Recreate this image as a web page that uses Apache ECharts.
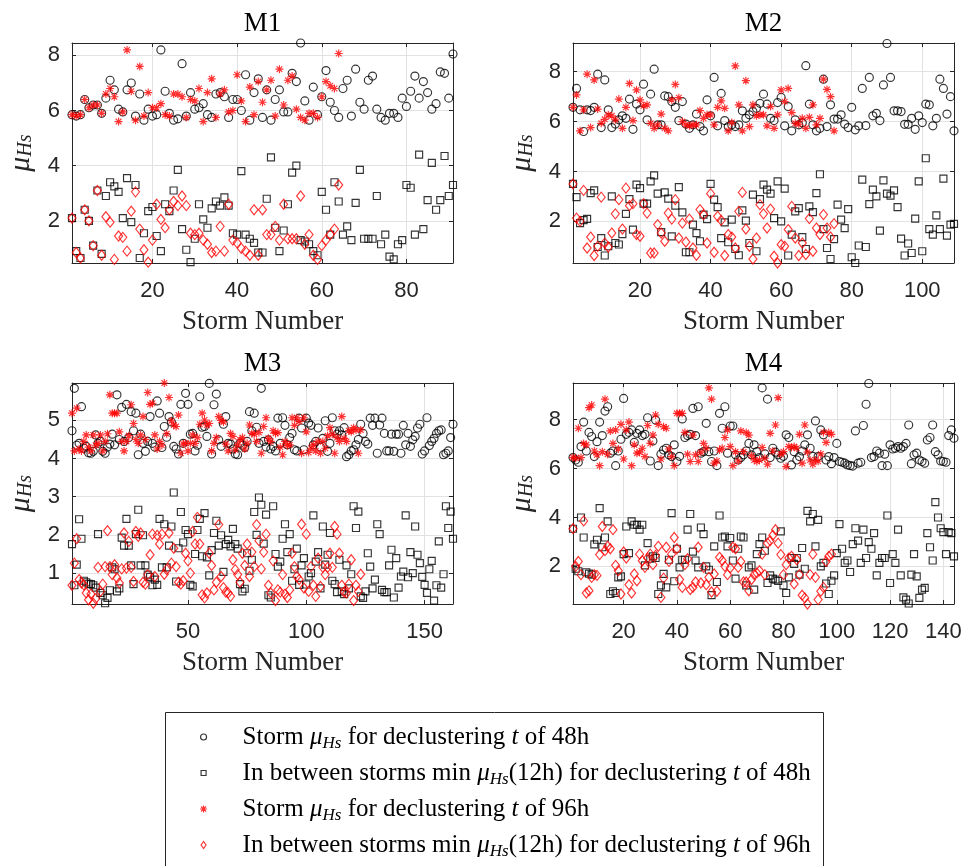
<!DOCTYPE html>
<html>
<head>
<meta charset="utf-8">
<title>Storm mean Hs per site</title>
<script src="https://cdn.jsdelivr.net/npm/echarts@6/dist/echarts.min.js"></script>
<style>
  html, body { margin: 0; padding: 0; background: #ffffff; }
  #chart { width: 965px; height: 866px; }
</style>
</head>
<body>
<div id="chart"></div>
<script>
// ---- Site M1 ----
const m1Storm48 = [5.85,5.8,5.85,6.4,6.1,6.2,6.2,5.9,6.45,7.1, 6.75,6.05,5.95,6.75,7.0,5.8,6.6,5.65,6.05,5.8, 5.85,8.2,6.7,5.9,5.65,5.7,7.7,5.8,6.65,6.05, 6.1,6.25,5.85,5.75,6.6,6.65,6.5,5.75,6.4,6.4, 6.0,7.3,5.65,6.65,7.15,5.75,6.75,5.65,6.4,6.75, 5.95,5.95,7.35,7.05,8.45,6.35,5.65,6.85,5.85,6.5, 7.45,6.3,6.0,5.75,6.8,7.1,5.8,7.5,6.3,6.05, 7.1,7.25,6.05,5.75,5.65,5.9,5.9,5.75,6.45,6.15, 6.7,7.25,6.45,7.05,6.65,6.05,6.25,7.4,7.35,6.45, 8.05];
const m1Between48 = [2.1,0.9,0.65,2.4,2.0,1.1,3.1,0.8,2.9,3.4, 3.25,3.05,2.1,3.55,1.95,3.3,0.65,1.55,2.35,2.5, 1.45,0.9,2.6,2.35,3.1,3.85,1.7,0.95,0.5,1.35, 2.6,2.05,1.75,2.45,2.7,2.55,2.85,2.55,1.55,1.5, 3.8,1.5,1.35,1.2,0.85,0.85,2.8,4.3,1.75,0.9, 1.65,2.6,3.75,4.0,1.3,1.25,1.15,0.9,0.75,3.05, 2.4,1.5,3.4,2.7,1.5,1.8,1.3,2.65,3.85,1.35, 1.35,1.35,2.9,1.15,1.5,0.7,0.6,1.15,1.3,3.3, 3.2,1.5,4.4,1.7,2.75,4.1,2.4,2.75,4.35,2.9, 3.3];
const m1Storm96 = [5.85,5.8,5.85,6.4,6.1,6.2,6.2,5.9,6.6,6.8, 6.5,5.6,5.95,8.2,6.7,5.65,7.6,5.8,6.65,6.1, 6.1,6.25,5.85,5.8,6.6,6.6,6.5,5.75,6.4,6.35, 6.8,5.6,6.65,7.15,5.75,6.6,6.75,5.95,6.0,7.3, 6.35,5.6,6.85,5.85,7.05,6.3,6.75,7.1,5.8,7.5, 6.2,7.1,7.25,6.05,5.75,5.65,5.9,5.9,5.75,6.5, 7.05,6.9,6.8,8.07];
const m1Between96 = [2.1,0.85,0.65,2.4,2.0,1.1,3.1,0.75,2.15,1.95, 0.6,1.45,1.4,0.9,2.35,3.05,1.7,0.95,0.5,1.3, 2.6,2.05,1.75,2.4,2.7,2.55,2.9,2.55,1.55,1.5, 1.55,1.3,1.15,0.85,0.9,1.8,0.9,2.6,1.3,1.2, 1.0,0.9,0.75,2.4,0.75,2.4,1.5,1.5,1.8,1.3, 2.6,1.35,1.35,1.35,2.9,1.15,1.5,0.75,0.6,1.1, 1.3,1.5,1.7,3.3];

// ---- Site M2 ----
const m2Storm48 = [6.57,7.33,6.47,5.6,6.47,6.44,6.57,7.9,5.76,7.67, 6.47,5.76,5.9,6.07,6.23,6.13,6.9,5.69,6.7,6.47, 7.5,6.07,7.1,8.1,5.87,5.87,7.03,7.0,6.8,6.57, 6.04,6.8,5.9,5.73,5.87,6.3,5.8,5.63,6.87,6.23, 7.77,5.83,7.13,6.04,5.8,5.87,5.8,5.87,6.43,6.13, 6.27,6.4,6.53,6.73,7.1,6.7,6.13,6.04,6.76,6.97, 5.83,6.6,5.63,6.07,5.87,5.95,8.24,6.7,5.87,5.63, 5.73,7.7,5.8,6.67,6.1,6.1,6.27,5.9,5.76,6.57, 5.67,5.83,7.33,5.84,7.77,6.23,6.33,6.04,7.47,9.13, 7.77,6.43,6.43,6.4,5.89,5.89,6.13,5.69,6.23,5.96, 6.7,6.67,5.83,6.13,7.7,7.33,6.3,7.0,5.63];
const m2Between48 = [3.5,2.97,1.93,2.05,2.1,3.13,3.24,0.97,1.33,0.63, 1.0,3.0,1.13,1.07,1.49,2.3,2.89,1.67,3.47,3.33, 2.71,2.71,3.6,3.84,3.11,1.57,3.16,2.91,1.4,2.63, 3.37,2.36,0.76,0.76,1.87,1.53,1.2,2.27,2.09,3.5, 2.87,2.57,1.33,1.96,1.16,2.07,0.89,0.64,2.44,2.03, 1.13,3.07,0.8,2.89,3.47,3.27,3.11,2.13,3.6,2.0, 3.31,0.63,1.47,2.4,2.53,1.37,0.89,2.6,2.37,3.13, 3.89,1.69,0.93,0.49,1.29,2.67,2.07,1.73,2.49,0.56, 0.33,1.03,3.67,0.97,2.69,3.27,3.0,1.63,3.64,3.11, 3.03,3.24,2.57,1.31,0.63,1.11,0.73,2.11,3.6,0.8, 4.53,1.69,1.47,2.24,1.69,3.71,1.43,1.87,1.9];
const m2Storm96 = [6.57,7.07,5.63,6.47,7.9,5.76,7.67,6.5,5.93,6.09, 6.27,6.23,6.07,6.9,5.73,6.57,7.53,6.04,7.27,6.87, 6.63,6.67,5.93,5.73,5.87,6.3,5.73,5.63,6.87,7.49, 6.96,6.0,5.87,5.83,5.87,5.87,6.44,6.13,6.27,6.27, 5.87,6.57,6.83,6.53,5.63,5.96,8.23,6.67,5.63,7.64, 5.8,6.67,6.23,6.27,6.27,5.83,6.6,5.73,6.27,7.27, 6.8,7.33,6.36,5.93,5.9,6.13,5.73,6.17,6.67,5.87, 6.13,7.7,7.29,7.0,5.63];
const m2Between96 = [3.5,2.13,2.0,3.24,0.93,1.37,0.63,1.0,2.97,1.13, 0.97,1.53,2.3,2.87,1.69,3.33,2.63,2.71,1.47,1.4, 2.71,2.33,0.73,0.73,1.87,1.53,1.2,2.33,2.09,2.87, 1.33,1.93,1.17,2.09,0.93,0.64,2.47,2.27,1.13,3.11, 0.76,2.2,2.04,0.63,1.47,1.37,0.93,2.4,3.16,1.69, 1.0,0.49,1.33,2.67,2.3,1.73,2.49,0.6,0.33,1.07, 1.0,1.67,2.6,1.33,0.63,1.13,0.67,2.11,0.8,1.73, 1.47,2.27,1.73,1.37,1.91];

// ---- Site M3 ----
const m3Storm48 = [4.73,5.84,4.35,4.40,5.36,4.27,4.32,4.15,4.14,4.19, 4.62,4.40,4.45,4.19,4.14,4.30,4.38,4.64,4.36,5.67, 4.50,5.34,4.45,5.42,4.55,5.23,4.73,5.19,4.10,4.64, 4.40,4.19,4.45,5.10,4.40,4.30,5.51,5.19,4.29,4.84, 4.56,5.10,4.96,4.32,4.25,4.12,5.42,4.40,5.71,5.42, 4.64,4.66,4.20,4.35,5.62,4.82,4.84,4.58,5.97,4.12, 5.41,5.69,4.49,4.32,4.90,5.10,4.40,4.38,4.25,4.12, 4.10,4.40,4.35,4.29,4.45,5.23,4.73,5.19,4.82,4.40, 5.84,4.45,4.30,4.49,4.25,4.32,4.20,5.06,4.40,5.07, 4.87,4.36,4.55,4.66,4.23,4.20,5.06,4.80,4.23,5.06, 4.93,4.87,4.36,4.45,4.80,4.30,4.53,4.99,4.19,4.40, 5.07,4.73,4.64,4.73,4.62,4.81,4.05,4.10,4.20,4.23, 4.36,4.50,4.90,4.66,4.45,4.38,5.06,4.87,5.06,4.14, 4.88,5.06,4.66,4.20,4.20,4.64,4.19,4.64,4.64,4.14, 4.87,4.36,4.66,4.32,4.49,4.58,4.80,4.90,4.12,4.20, 5.07,4.34,4.45,4.53,4.66,4.73,4.75,4.10,4.14,4.20, 4.55,4.90];
const m3Between48 = [1.76,0.68,1.22,2.41,1.9,0.8,0.76,0.72,0.71,0.68, 0.62,2.02,0.48,0.42,0.21,0.35,0.55,1.15,1.1,0.52, 0.6,1.93,1.72,2.42,1.72,1.2,0.71,2.02,2.66,1.2, 1.99,1.2,0.96,0.9,0.68,0.83,0.69,2.42,1.15,2.28, 1.15,1.72,2.22,3.11,0.78,1.65,2.6,1.8,2.13,2.02, 0.69,0.65,1.5,2.13,2.42,1.44,2.57,1.41,0.94,1.6, 2.05,2.37,1.72,1.99,1.03,1.76,1.87,1.7,2.16,1.76, 1.64,0.71,0.52,0.59,1.52,1.06,1.35,2.6,2.0,2.98, 2.79,1.77,2.53,0.42,0.36,2.75,1.5,1.17,1.3,1.9, 2.28,1.55,2.02,0.8,1.1,1.64,0.69,1.2,1.39,0.7, 0.91,1.0,2.51,1.3,1.55,0.6,2.22,1.22,1.48,2.05, 0.8,0.71,0.5,1.35,0.52,0.45,1.2,0.6,0.97,2.75, 2.18,2.61,0.39,0.35,0.52,1.52,1.17,0.6,0.83,2.28, 2.02,0.56,0.5,0.5,1.2,1.61,0.36,1.39,0.62,0.91, 1.04,2.51,0.89,1.55,1.0,2.22,1.48,1.26,0.9,0.69, 0.48,1.1,1.32,0.28,0.68,1.83,0.62,0.97,2.75,2.18, 2.61,1.9];
const m3Storm96 = [5.19,4.20,5.32,4.25,4.20,4.45,4.62,4.30,4.20,4.62, 4.35,4.40,4.62,4.20,4.45,4.65,5.67,5.19,5.19,5.19, 4.70,4.45,4.20,4.45,4.60,5.41,4.92,4.50,4.40,4.62, 5.10,4.50,5.73,5.42,5.45,4.62,4.25,4.45,4.35,5.98, 4.65,5.60,4.99,4.88,4.84,5.14,4.14,4.38,4.40,4.20, 4.40,4.62,4.40,4.55,4.90,5.19,5.01,4.88,4.92,4.20, 4.40,4.55,5.10,5.00,4.96,4.38,4.20,4.66,4.58,4.23, 4.36,4.49,4.55,4.25,4.40,4.88,4.66,4.64,4.45,4.68, 4.14,4.84,5.07,4.53,4.45,4.73,4.66,4.68,4.30,4.10, 4.45,4.34,4.36,5.07,4.87,5.07,4.97,4.14,5.07,4.70, 4.16,4.27,4.36,4.20,4.45,4.14,4.45,4.27,4.60,4.81, 4.64,4.14,4.55,4.45,5.10,4.53,4.45,4.73,4.70,4.81, 4.75,4.14,4.75];
const m3Between96 = [0.68,1.26,1.9,0.83,0.74,0.69,0.48,0.3,0.45,0.21, 0.33,1.15,0.52,0.71,1.17,2.11,1.17,0.96,1.22,0.87, 0.74,1.11,2.05,1.13,1.83,1.15,0.78,2.09,1.96,2.05, 0.76,0.71,0.96,1.48,2.02,0.91,1.99,1.76,2.02,0.97, 1.09,2.05,1.26,1.65,1.17,0.76,0.71,0.8,1.52,1.32, 1.0,2.09,1.76,2.46,1.76,0.43,0.35,0.48,1.52,1.2, 0.56,0.76,2.27,0.91,0.62,0.5,0.48,0.39,1.35,1.09, 0.96,0.76,1.52,1.2,1.76,0.91,1.55,1.17,2.27,1.85, 1.11,1.55,2.02,0.68,0.48,1.32,0.28,0.56,0.5,0.96, 0.45,0.36,0.56,1.52,1.17,0.91,0.83,2.28,0.61,2.02, 0.52,1.17,0.68,0.39,1.39,0.65,1.15,0.96,1.15,1.52, 1.15,2.22,2.02,1.52,0.68,0.5,0.48,0.71,1.35,0.28, 0.68,0.52,0.97];

// ---- Site M4 ----
const m4Storm48 = [6.45,6.35,6.26,6.9,7.9,6.72,7.48,7.31,6.49,7.1, 7.9,7.35,8.35,8.53,6.63,6.72,6.12,6.72,7.2,8.87, 7.4,7.48,7.58,7.07,7.44,7.58,7.35,7.4,8.08,6.31, 7.13,7.99,6.12,6.59,6.76,6.83,6.56,6.49,6.97,6.29, 6.5,8.03,7.27,7.35,7.4,8.46,7.35,8.53,6.63,6.69, 7.85,6.69,6.29,6.72,6.12,8.26,7.65,8.53,6.63,7.74, 7.74,6.56,6.35,6.45,6.56,6.72,7.03,6.56,6.97,6.69, 6.45,9.3,6.6,8.84,6.45,6.83,6.67,6.56,6.42,6.5, 7.38,7.27,6.15,6.69,6.35,6.49,6.72,6.97,7.38,6.83, 6.5,7.95,6.49,7.58,7.38,6.35,6.49,6.2,6.45,7.03, 6.29,6.26,6.22,6.15,6.12,6.1,7.54,6.22,6.26,7.76, 8.63,9.48,6.45,6.49,6.72,6.63,6.12,6.59,6.12,6.97, 6.8,6.83,6.9,6.83,6.9,7.03,7.78,6.2,6.56,6.63, 6.35,6.29,6.22,7.17,7.27,7.78,6.69,6.56,6.31,6.29, 6.26,7.35,7.58,7.24];
const m4Between48 = [3.54,1.9,1.8,4.0,3.18,1.76,1.7,1.66,2.9,3.09, 4.38,2.78,3.18,3.84,0.87,0.98,0.91,1.55,1.59,2.5, 3.63,2.54,3.84,3.7,3.7,3.5,3.7,2.04,2.95,2.31, 2.41,2.34,0.87,1.22,1.69,1.14,2.27,4.18,1.39,2.72, 1.96,2.27,2.27,3.5,4.14,2.6,2.24,1.96,3.59,3.32, 2.0,1.86,0.82,2.82,1.36,4.08,3.18,3.22,2.82,3.16, 2.24,1.5,2.72,3.22,3.18,1.22,1.96,2.04,1.05,2.5, 2.91,3.18,2.64,1.32,1.63,1.5,1.46,1.4,3.43,1.22, 0.91,1.55,2.34,2.1,2.34,1.66,2.75,1.9,4.27,3.84, 4.14,2.82,3.9,2.0,2.14,1.3,0.87,1.41,1.63,2.54, 3.73,2.72,2.14,2.24,1.77,2.91,3.56,3.05,2.14,3.5, 2.34,2.99,2.72,3.36,1.63,2.14,2.34,2.34,4.08,1.32, 2.5,2.14,3.5,1.63,0.73,0.64,0.48,1.66,2.5,1.59, 0.71,1.05,1.12,3.36,2.78,2.24,4.63,4.0,3.56,3.4, 2.5,3.4,3.36,2.41];
const m4Storm96 = [6.45,6.42,7.65,6.45,7.03,6.97,8.49,8.6,6.72,6.56, 6.12,6.69,8.84,6.59,7.54,7.03,7.58,6.8,7.81,6.39, 7.58,7.9,6.12,6.97,6.63,6.67,6.83,6.49,7.76,7.03, 7.37,8.19,7.81,6.39,7.71,7.65,6.8,6.49,6.12,8.26, 8.26,8.26,7.48,6.59,6.29,7.37,6.56,6.29,6.67,7.03, 6.83,9.3,8.84,6.22,6.31,6.76,6.83,7.27,7.58,6.9, 6.12,6.69,6.31,7.54,6.69,7.48,7.37,6.53,6.35, 6.29,6.35,6.86,6.42,6.18,7.44,6.72,7.78,8.9,6.59, 6.69,6.08,6.9,6.86,6.9,6.83,7.4,6.22,7.78,6.67, 6.35,6.18,6.35,6.3,6.6,7.48,7.07,7.48,7.4];
const m4Between96 = [3.54,2.0,2.2,1.66,3.86,0.91,1.0,1.55,1.66,1.63, 2.48,3.63,2.64,2.82,2.72,3.5,2.04,1.82,0.87,2.59, 2.34,1.25,0.91,1.69,1.41,2.5,2.23,1.96,2.34,2.5, 2.07,2.45,2.82,0.73,1.52,2.78,2.2,2.5,3.18,2.72, 1.46,1.14,2.07,2.31,1.05,1.14,1.36,2.78,1.32,1.96, 1.25,1.55,0.95,1.69,0.98,2.37,2.24,2.0,1.66,1.93, 2.78,2.72,1.96,2.2,1.36,1.36,1.0,1.46,1.66,1.73, 1.82,2.5, 1.66,2.95,3.05,3.27,3.5,2.95,2.48,1.66, 2.07,2.34,2.41,1.28,2.27,1.66,0.82,0.71,0.46,1.66, 2.5,1.55,0.64,0.98,1.14,2.2,2.41,2.5];

// ---- Axes: limits and tick labels per panel ----
const panelTitles = ['M1', 'M2', 'M3', 'M4'];
const xLimits = [[1, 91], [1, 109], [1, 162], [1, 144]];
const yLimits = [[0.47, 8.45], [0.33, 9.15], [0.19, 5.98], [0.46, 9.5]];
const xTickValues = [[20, 40, 60, 80], [20, 40, 60, 80, 100], [50, 100, 150], [20, 40, 60, 80, 100, 120, 140]];
const yTickValues = [[2, 4, 6, 8], [2, 4, 6, 8], [1, 2, 3, 4, 5], [2, 4, 6, 8]];

const seriesNames = [
  'Storm μHs for declustering t of 48h',
  'In between storms min μHs(12h) for declustering t of 48h',
  'Storm μHs for declustering t of 96h',
  'In between storms min μHs(12h) for declustering t of 96h'
];
const richNames = {
  [seriesNames[0]]: 'Storm {mu|μ}{sub|Hs} for declustering {it|t} of 48h',
  [seriesNames[1]]: 'In between storms min {mu|μ}{sub|Hs}(12h) for declustering {it|t} of 48h',
  [seriesNames[2]]: 'Storm {mu|μ}{sub|Hs} for declustering {it|t} of 96h',
  [seriesNames[3]]: 'In between storms min {mu|μ}{sub|Hs}(12h) for declustering {it|t} of 96h'
};

const panelData = [
  [m1Storm48, m1Between48, m1Storm96, m1Between96],
  [m2Storm48, m2Between48, m2Storm96, m2Between96],
  [m3Storm48, m3Between48, m3Storm96, m3Between96],
  [m4Storm48, m4Between48, m4Storm96, m4Between96]
];

// ---- Styling ----
const AXIS_COLOR = '#262626';
const GRID_COLOR = '#e2e2e2';
const SERIF = "'Liberation Serif', 'Times New Roman', serif";
const SANS = "'Liberation Sans', Arial, sans-serif";
const STAR = 'path://M5,0L5,10M0,5L10,5M1.46,1.46L8.54,8.54M8.54,1.46L1.46,8.54';

const markers = [
  { symbol: 'circle', size: 8, color: '#000000' },
  { symbol: 'rect', size: 7, color: '#000000' },
  { symbol: STAR, size: 8, color: '#ff0000' },
  { symbol: 'diamond', size: [8, 10], color: '#ff0000' }
];

const grids = [
  { left: 72, top: 43, width: 381, height: 220 },
  { left: 573, top: 43, width: 381, height: 220 },
  { left: 72, top: 383, width: 381, height: 221 },
  { left: 573, top: 383, width: 381, height: 221 }
];

const toPoints = arr => arr.map((v, i) => [i + 1, v]);

const xAxes = [];
const yAxes = [];
const series = [];
const titles = [];

grids.forEach((g, p) => {
  const tickStyle = { show: true, inside: true, length: 4, lineStyle: { color: AXIS_COLOR, width: 1 } };
  const lineStyle = { show: true, onZero: false, lineStyle: { color: AXIS_COLOR, width: 1 } };
  xAxes.push({
    type: 'value', gridIndex: p, position: 'bottom',
    min: xLimits[p][0], max: xLimits[p][1],
    name: 'Storm Number', nameLocation: 'middle', nameGap: 45,
    nameTextStyle: { fontFamily: SERIF, fontSize: 27, color: AXIS_COLOR },
    axisLine: lineStyle,
    axisTick: Object.assign({ customValues: xTickValues[p] }, tickStyle),
    axisLabel: { customValues: xTickValues[p], margin: 17, fontFamily: SANS, fontSize: 22, color: AXIS_COLOR },
    splitLine: { show: true, lineStyle: { color: GRID_COLOR, width: 1 } }
  });
  xAxes.push({
    type: 'value', gridIndex: p, position: 'top',
    min: xLimits[p][0], max: xLimits[p][1],
    axisLine: lineStyle,
    axisTick: Object.assign({ customValues: xTickValues[p] }, tickStyle),
    axisLabel: { show: false },
    splitLine: { show: false }
  });
  yAxes.push({
    type: 'value', gridIndex: p, position: 'left',
    min: yLimits[p][0], max: yLimits[p][1],
    name: '{mu|μ}{sub|Hs}', nameLocation: 'middle', nameGap: 36, nameRotate: 90,
    nameTextStyle: {
      rich: {
        mu: { fontFamily: SERIF, fontStyle: 'italic', fontSize: 30, lineHeight: 30, color: AXIS_COLOR },
        sub: { fontFamily: SERIF, fontStyle: 'italic', fontSize: 20, lineHeight: 20, verticalAlign: 'bottom', color: AXIS_COLOR }
      }
    },
    axisLine: lineStyle,
    axisTick: Object.assign({ customValues: yTickValues[p] }, tickStyle),
    axisLabel: { customValues: yTickValues[p], margin: 12, fontFamily: SANS, fontSize: 22, color: AXIS_COLOR },
    splitLine: { show: true, lineStyle: { color: GRID_COLOR, width: 1 } }
  });
  yAxes.push({
    type: 'value', gridIndex: p, position: 'right',
    min: yLimits[p][0], max: yLimits[p][1],
    axisLine: lineStyle,
    axisTick: Object.assign({ customValues: yTickValues[p] }, tickStyle),
    axisLabel: { show: false },
    splitLine: { show: false }
  });

  panelData[p].forEach((values, k) => {
    const m = markers[k];
    series.push({
      type: 'scatter',
      name: seriesNames[k],
      xAxisIndex: 2 * p,
      yAxisIndex: 2 * p,
      data: toPoints(values),
      symbol: m.symbol,
      symbolSize: m.size,
      itemStyle: { color: 'rgba(0,0,0,0)', borderColor: m.color, borderWidth: 1.15 },
      clip: false,
      silent: true
    });
  });

  titles.push({
    text: panelTitles[p],
    left: g.left + g.width / 2,
    top: g.top - 33,
    textAlign: 'center',
    padding: 0,
    textStyle: { fontFamily: SERIF, fontSize: 27, fontWeight: 'normal', color: '#000000' }
  });
});

// One legend row per series type, stacked inside a framed box
const legendRows = [737, 773, 809, 845];
const legendIcon = [
  { icon: 'circle', w: 6, h: 6 },
  { icon: 'rect', w: 5, h: 5 },
  { icon: STAR, w: 7, h: 7 },
  { icon: 'diamond', w: 5, h: 7 }
];
const ICON_CENTER_X = 203;
const TEXT_LEFT_X = 242;
const legends = seriesNames.map((name, k) => {
  const ic = legendIcon[k];
  const left = ICON_CENTER_X - ic.w / 2;
  return {
    left: left,
    top: legendRows[k] - 15,
    padding: 0,
    itemWidth: ic.w,
    itemHeight: ic.h,
    selectedMode: false,
    data: [{
      name: name,
      icon: ic.icon,
      itemStyle: { color: 'rgba(0,0,0,0)', borderColor: markers[k].color, borderWidth: 1.15 }
    }],
    formatter: n => richNames[n],
    textStyle: {
      fontFamily: SERIF, fontSize: 25, lineHeight: 30, color: '#000000',
      padding: [0, 0, 0, TEXT_LEFT_X - 5 - left - ic.w],
      rich: {
        mu: { fontFamily: SERIF, fontStyle: 'italic', fontSize: 25, lineHeight: 30, color: '#000000' },
        sub: { fontFamily: SERIF, fontStyle: 'italic', fontSize: 17, lineHeight: 17, verticalAlign: 'bottom', color: '#000000' },
        it: { fontFamily: SERIF, fontStyle: 'italic', fontSize: 25, lineHeight: 30, color: '#000000' }
      }
    }
  };
});

const chart = echarts.init(document.getElementById('chart'), null, { renderer: 'canvas' });
chart.setOption({
  backgroundColor: '#ffffff',
  animation: false,
  title: titles,
  grid: grids.map(g => Object.assign({ show: false, outerBoundsMode: 'none' }, g)),
  xAxis: xAxes,
  yAxis: yAxes,
  legend: legends,
  graphic: [{
    type: 'rect',
    z: -1,
    shape: { x: 165.5, y: 712.5, width: 658, height: 170 },
    style: { fill: '#ffffff', stroke: AXIS_COLOR, lineWidth: 1 }
  }],
  series: series
});
</script>
</body>
</html>
